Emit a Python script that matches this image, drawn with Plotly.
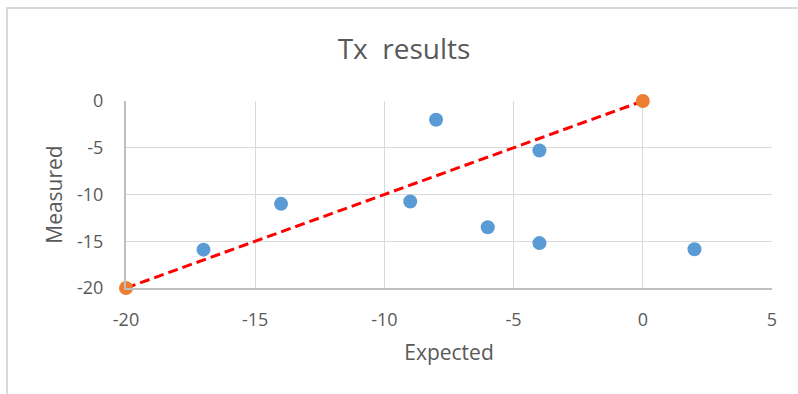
import plotly.graph_objects as go

# Data
expected = [-17, -14, -9, -8, -6, -4, -4, 2]
measured = [-15.9, -11.0, -10.75, -2.0, -13.5, -5.3, -15.2, -15.85]
ref_x = [-20, 0]
ref_y = [-20, 0]
x_ticks = [-20, -15, -10, -5, 0, 5]
y_ticks = [-20, -15, -10, -5, 0]

TEXT = "#595959"
FONT = "Open Sans, Lato, sans-serif"

fig = go.Figure()
fig.add_trace(go.Scatter(
    x=expected, y=measured, mode="markers",
    marker=dict(color="#5B9BD5", size=14, line=dict(width=0)),
    cliponaxis=False, showlegend=False,
))
fig.add_trace(go.Scatter(
    x=ref_x, y=ref_y, mode="lines+markers",
    line=dict(color="#FF0000", width=3, dash="10px,5px"),
    marker=dict(color="#ED7D31", size=14, line=dict(width=0)),
    cliponaxis=False, showlegend=False,
))

L, R, T, B = 126, 26, 101, 106
W, H = 798, 394
pw, ph = W - L - R, H - T - B
def px_x(p):
    return (p - L) / pw
def px_y(p):
    return (H - B - p) / ph

fig.update_layout(
    width=W, height=H,
    margin=dict(l=L, r=R, t=T, b=B),
    paper_bgcolor="white", plot_bgcolor="white",
    font=dict(family=FONT, color=TEXT),
    title=dict(text="Tx  results", x=404 / W, xanchor="center",
               y=1 - 49 / H, yanchor="middle",
               font=dict(size=28, color=TEXT, family=FONT)),
    xaxis=dict(
        range=[-20, 5], tickvals=x_ticks, ticktext=[str(v) for v in x_ticks],
        showgrid=True, gridcolor="#D9D9D9", gridwidth=1.3, zeroline=False,
        showline=True, linecolor="#BFBFBF", linewidth=2,
        ticks="", ticklabelstandoff=14,
        tickfont=dict(size=18, color=TEXT, family=FONT),
        title=dict(text="Expected", font=dict(size=21, color=TEXT, family=FONT), standoff=16),
    ),
    yaxis=dict(
        range=[-20, 0], tickvals=y_ticks, ticktext=[str(v) for v in y_ticks],
        showgrid=True, gridcolor="#D9D9D9", gridwidth=1.3, zeroline=False,
        showline=True, linecolor="#BFBFBF", linewidth=2,
        ticks="", ticklabelstandoff=17,
        tickfont=dict(size=18, color=TEXT, family=FONT),
        title=dict(text="Measured", font=dict(size=21, color=TEXT, family=FONT), standoff=9),
    ),
    shapes=[dict(type="rect", xref="paper", yref="paper",
                 x0=px_x(7), x1=px_x(W + 10), y0=px_y(H + 10), y1=px_y(8),
                 line=dict(color="#D9D9D9", width=2), fillcolor="rgba(0,0,0,0)",
                 layer="below")],
)

fig.write_html(
    "out.html",
    config={"displayModeBar": False},
    post_script="document.body.style.margin='0';document.body.style.overflow='hidden';",
)
